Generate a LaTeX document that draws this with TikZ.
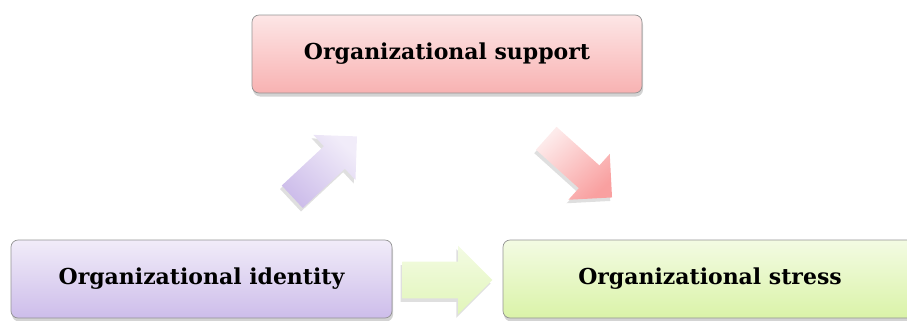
\documentclass[tikz,border=0pt]{standalone}
\usepackage{fontspec}
\setmainfont{DejaVu Serif}
\usetikzlibrary{shapes.arrows,shadows}

\definecolor{pinktop}{HTML}{FDE6E6}
\definecolor{pinkbot}{HTML}{F8B2B2}
\definecolor{lilactop}{HTML}{F1ECF9}
\definecolor{lilacbot}{HTML}{CDBDEA}
\definecolor{limetop}{HTML}{F3FBE3}
\definecolor{limebot}{HTML}{DAF3A8}

\begin{document}
\begin{tikzpicture}[
  box/.style={draw=gray!85,rounded corners=4pt,minimum height=1.56cm,font=\bfseries\fontsize{12.5}{14}\selectfont,
    drop shadow={shadow xshift=0.6pt,shadow yshift=-2pt,opacity=0.35}},
  blockarrow/.style={single arrow,anchor=tail,inner xsep=0pt,inner ysep=0.3cm,minimum height=1.77cm,single arrow head extend=0.31cm,
    drop shadow={shadow xshift=-1pt,shadow yshift=-2pt,opacity=0.25}}]
\useasboundingbox (0,0) rectangle (18.14,6.4);

% the three boxes
\node[box,minimum width=7.8cm,top color=pinktop,bottom color=pinkbot] (support) at (8.94,5.32) {Organizational support};
\node[box,minimum width=7.62cm,top color=lilactop,bottom color=lilacbot] (identity) at (4.03,0.82) {Organizational identity};
\node[box,minimum width=8.28cm,top color=limetop,bottom color=limebot] (stress) at (14.2,0.82) {Organizational stress};

% block arrows between them, placed by their tails
\node[blockarrow,rotate=43,top color=lilactop,bottom color=lilacbot,shading angle=-43] (up) at (5.84,2.46) {};
\node[blockarrow,rotate=-42,top color=pinktop!80!white,bottom color=pinkbot!90!red,shading angle=42] (down) at (10.92,3.64) {};
\node[blockarrow,inner ysep=0.36cm,minimum height=1.8cm,single arrow head extend=0.32cm,top color=limetop,bottom color=limebot!80] (right) at (8.04,0.8) {};
\end{tikzpicture}
\end{document}
